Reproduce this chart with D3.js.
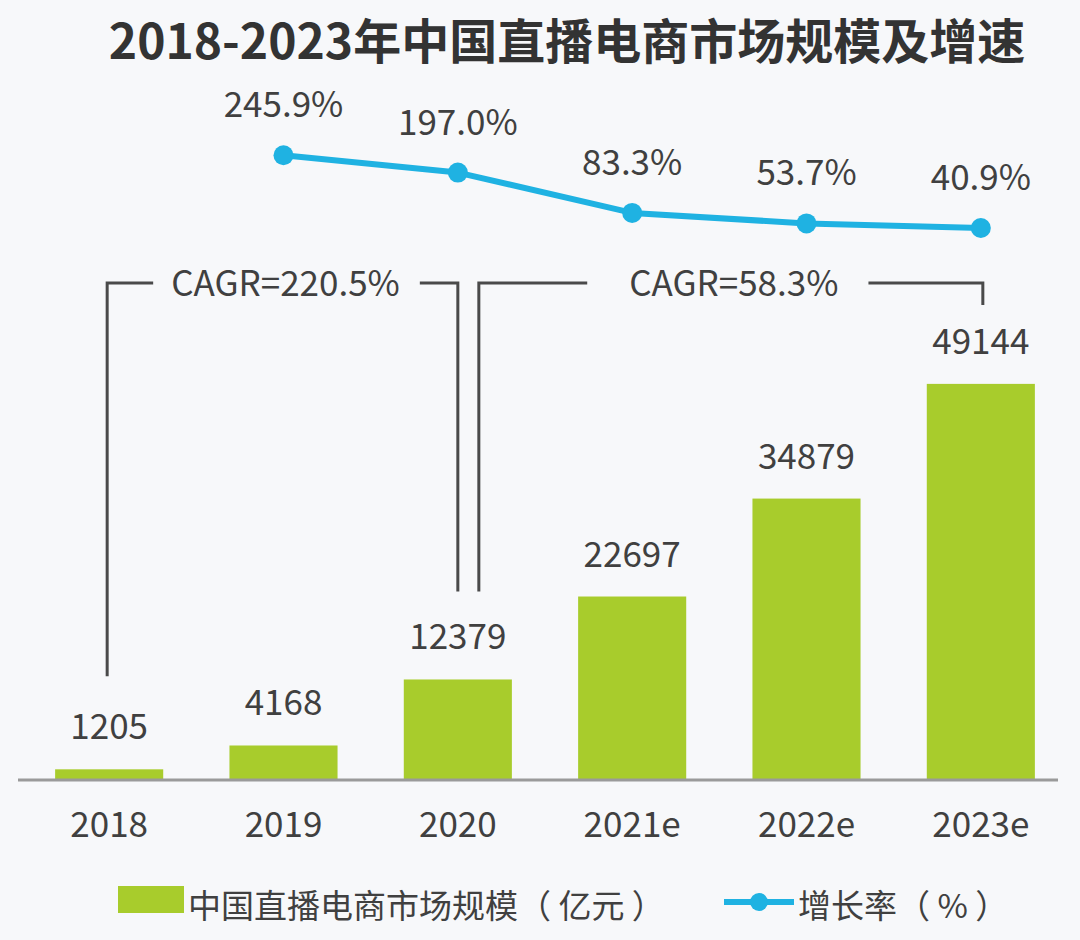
<!DOCTYPE html>
<html>
<head>
<meta charset="utf-8">
<script src="https://cdn.jsdelivr.net/npm/d3@7/dist/d3.min.js"></script>
<style>
  html, body { margin: 0; padding: 0; background: #f7f8fa; }
  svg { display: block; }
</style>
</head>
<body>
<svg id="chart" width="1080" height="940"></svg>
<script>
const title = "2018-2023年中国直播电商市场规模及增速";
const years = ["2018", "2019", "2020", "2021e", "2022e", "2023e"];
const marketSize = [1205, 4168, 12379, 22697, 34879, 49144];
const growthYears = ["2019", "2020", "2021e", "2022e", "2023e"];
const growthRate = [245.9, 197.0, 83.3, 53.7, 40.9];
const cagrLabels = ["CAGR=220.5%", "CAGR=58.3%"];
const cagrFrom = ["2018", "2020"];
const cagrTo = ["2020", "2023e"];
const legendLabels = ["中国直播电商市场规模（ 亿元 ）", "增长率（ % ）"];

const BAR = "#a8cc2c", LINE = "#1fb2e2", TEXT = "#404040", INK = "#4a4a4a";
const NUMFONT = "'Noto Sans CJK SC', 'Noto Sans', sans-serif";

const svg = d3.select("#chart");
svg.append("rect").attr("width", 1080).attr("height", 940).attr("fill", "#f7f8fa");

const x = d3.scaleBand().domain(years).range([22, 1068]).paddingInner(0.38).paddingOuter(0.19);
const y = d3.scaleLinear().domain([0, 50000]).range([779, 377]);
const yg = d3.scaleLinear().domain([0, 250]).range([242.5, 153.75]);
const cx = d => x(d) + x.bandwidth() / 2;

// Title
svg.append("text").attr("x", 567).attr("y", 59).attr("text-anchor", "middle")
  .attr("font-family", "'Noto Sans CJK SC', sans-serif").attr("font-weight", 700)
  .attr("font-size", 48).attr("fill", "#333").text(title);

// Bars
svg.append("g").selectAll("rect").data(marketSize).join("rect")
  .attr("x", (d, i) => x(years[i])).attr("width", x.bandwidth())
  .attr("y", d => y(d)).attr("height", d => y(0) - y(d)).attr("fill", BAR);

// Bar value labels
svg.append("g").selectAll("text").data(marketSize).join("text")
  .attr("x", (d, i) => cx(years[i])).attr("y", d => y(d) - 30)
  .attr("text-anchor", "middle").attr("font-family", NUMFONT).attr("font-size", 35)
  .attr("fill", TEXT).text(d => d);

// Axis
const xAxis = d3.axisBottom(x).tickSize(0).tickPadding(0);
const ax = svg.append("g").attr("transform", `translate(0,${y(0)})`).call(xAxis);
ax.select(".domain").remove();
ax.selectAll("text").attr("dy", 0).attr("y", 58).attr("font-family", NUMFONT)
  .attr("font-size", 35).attr("fill", TEXT);
svg.append("line").attr("x1", 18).attr("x2", 1058).attr("y1", y(0) + 1).attr("y2", y(0) + 1)
  .attr("stroke", "#9a9a9a").attr("stroke-width", 3);

// CAGR brackets
const bTop = 283;
const bracketDefs = [
  { l: cx(cagrFrom[0]) - 2, r: cx(cagrTo[0]), lb: y(marketSize[0]) - 93, rb: y(marketSize[2]) - 88, gl: 18, gr: 20 },
  { l: cx(cagrFrom[1]) + 21, r: cx(cagrTo[1]) + 2, lb: y(marketSize[2]) - 88, rb: y(marketSize[5]) - 79, gl: 42, gr: 30 }
];
bracketDefs.forEach((b, i) => {
  const g = svg.append("g");
  const mid = (b.l + b.r) / 2 + 3;
  const t = g.append("text").attr("x", mid).attr("y", bTop).attr("dy", "0.36em")
    .attr("text-anchor", "middle").attr("font-family", NUMFONT).attr("font-size", 35)
    .attr("fill", TEXT).text(cagrLabels[i]);
  const w = t.node().getComputedTextLength();
  const path = d3.path();
  path.moveTo(b.l, b.lb); path.lineTo(b.l, bTop); path.lineTo(mid - w / 2 - b.gl, bTop);
  path.moveTo(mid + w / 2 + b.gr, bTop); path.lineTo(b.r, bTop); path.lineTo(b.r, b.rb);
  g.append("path").attr("d", path.toString()).attr("fill", "none")
    .attr("stroke", INK).attr("stroke-width", 3);
});

// Growth line
const line = d3.line().x((d, i) => cx(growthYears[i])).y(d => yg(d));
svg.append("path").datum(growthRate).attr("d", line).attr("fill", "none")
  .attr("stroke", LINE).attr("stroke-width", 6).attr("stroke-linejoin", "round");
svg.append("g").selectAll("circle").data(growthRate).join("circle")
  .attr("cx", (d, i) => cx(growthYears[i])).attr("cy", d => yg(d)).attr("r", 10).attr("fill", LINE);
svg.append("g").selectAll("text").data(growthRate).join("text")
  .attr("x", (d, i) => cx(growthYears[i])).attr("y", d => yg(d) - 38)
  .attr("text-anchor", "middle").attr("font-family", NUMFONT).attr("font-size", 35)
  .attr("fill", TEXT).text(d => d.toFixed(1) + "%");

// Legend
const lg = svg.append("g");
lg.append("rect").attr("x", 118).attr("y", 886).attr("width", 66).attr("height", 27).attr("fill", BAR);
lg.append("text").attr("x", 188).attr("y", 918).attr("font-family", "'Noto Sans CJK SC', sans-serif")
  .attr("font-size", 33).attr("fill", TEXT).text(legendLabels[0]);
lg.append("line").attr("x1", 724).attr("x2", 794).attr("y1", 902).attr("y2", 902)
  .attr("stroke", LINE).attr("stroke-width", 6);
lg.append("circle").attr("cx", 759).attr("cy", 902).attr("r", 9).attr("fill", LINE);
lg.append("text").attr("x", 798).attr("y", 918).attr("font-family", "'Noto Sans CJK SC', sans-serif")
  .attr("font-size", 33).attr("fill", TEXT).text(legendLabels[1]);
</script>
</body>
</html>
